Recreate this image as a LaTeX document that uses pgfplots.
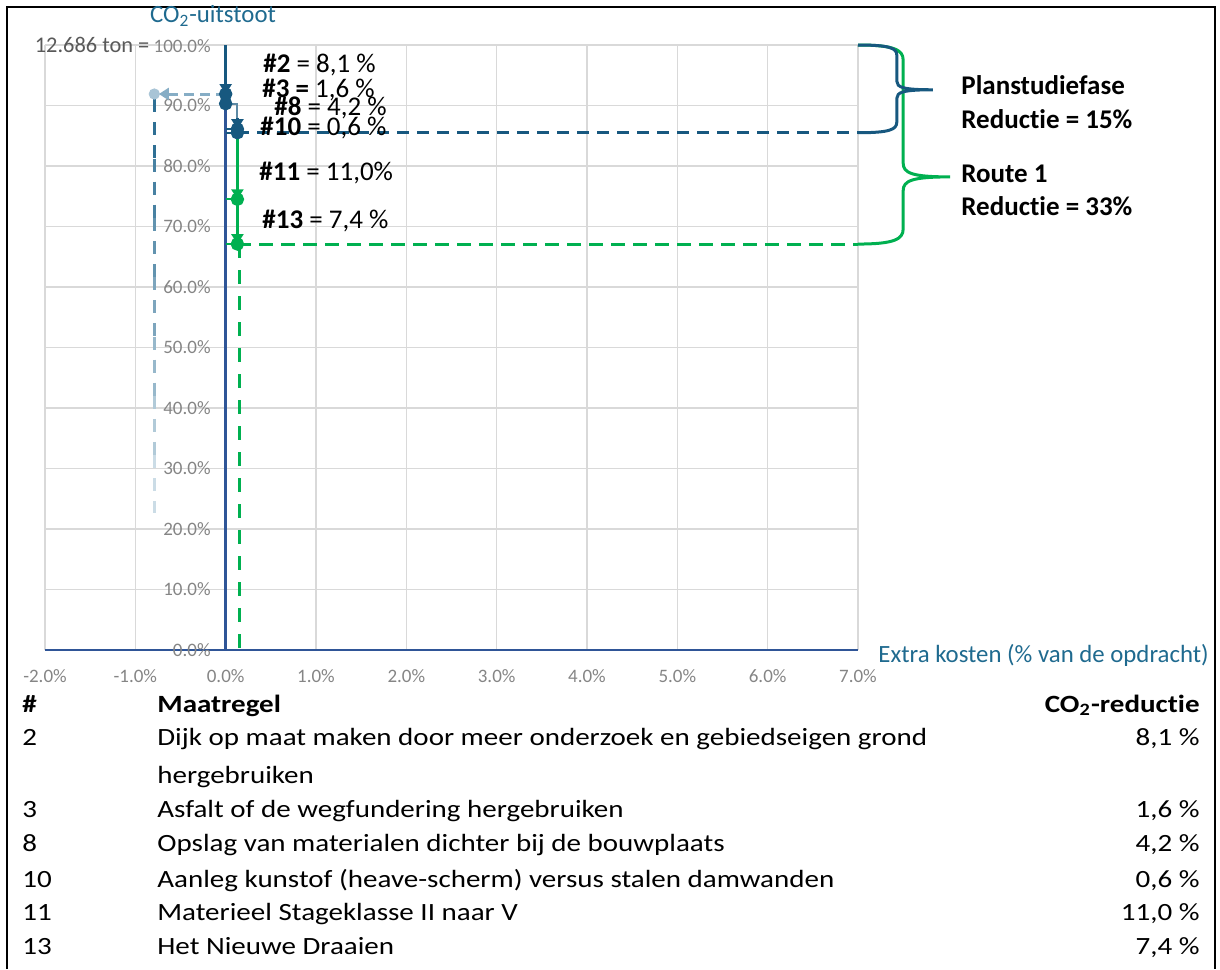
\documentclass[border=0pt]{standalone}
\usepackage{fontspec}
\setmainfont{Carlito}[Ligatures=NoCommon]
\usepackage{graphicx}
\usepackage{pgfplots}
\pgfplotsset{compat=1.18}
\usetikzlibrary{arrows.meta}

\definecolor{axblue}{HTML}{2F5597}
\definecolor{planblue}{HTML}{17587F}
\definecolor{routegreen}{HTML}{00B050}
\definecolor{titleteal}{HTML}{1F6A8F}
\definecolor{tickgray}{HTML}{858585}
\definecolor{tickdark}{HTML}{595959}
\definecolor{gridgray}{HTML}{D9D9D9}
\definecolor{ghostblue}{HTML}{A8C4D6}
\definecolor{ghostline}{HTML}{86ADC5}
\definecolor{fadetop}{HTML}{2E6F94}
\definecolor{fadebot}{HTML}{DDE8EF}

\newcommand\ticksize{\fontsize{9.5}{11}\selectfont}
\newcommand\lblsize{\fontsize{13.5}{16}\selectfont}
\newcommand\ttlsize{\fontsize{12.4}{15}\selectfont}
\newcommand\tabsize{\fontsize{12.4}{15}\selectfont}
\newcommand\wide[1]{\scalebox{1.17}[1]{#1}}

\begin{document}
\begin{tikzpicture}
\useasboundingbox (0,0) rectangle (610pt,-484.5pt);
\begin{axis}[
  at={(22.5pt,-325pt)}, anchor=south west,
  scale only axis, width=406.5pt, height=302.5pt,
  xmin=-2, xmax=7, ymin=0, ymax=100,
  axis lines=middle,
  axis line style={axblue, line width=1.2pt, -},
  hide obscured x ticks=false, hide obscured y ticks=false,
  xtick={-2,-1,0,1,2,3,4,5,6,7},
  ytick={0,10,20,30,40,50,60,70,80,90,100},
  xticklabels={-2.0\%,-1.0\%,0.0\%,1.0\%,2.0\%,3.0\%,4.0\%,5.0\%,6.0\%,7.0\%},
  yticklabels={0.0\%,10.0\%,20.0\%,30.0\%,40.0\%,50.0\%,60.0\%,70.0\%,80.0\%,90.0\%,{\textcolor{tickdark}{\fontsize{11.2}{13}\selectfont 12.686 ton =} 100.0\%}},
  major tick length=0pt,
  grid=major, grid style={gridgray, line width=0.7pt},
  tick label style={font=\ticksize, text=tickgray},
  xticklabel style={yshift=-6pt},
  yticklabel style={xshift=-4pt},
  /pgf/number format/assume math mode=true,
  clip=false,
]
% fading guide line to the left of the y axis
\addplot[fadetop, line width=1.5pt, dash pattern=on 6.5pt off 5pt] coordinates {(-0.79,91) (-0.79,81.2)};
\addplot[fadetop!85!fadebot, line width=1.5pt, dash pattern=on 6.5pt off 5pt] coordinates {(-0.79,81.2) (-0.79,71.4)};
\addplot[fadetop!70!fadebot, line width=1.5pt, dash pattern=on 6.5pt off 5pt] coordinates {(-0.79,71.4) (-0.79,61.6)};
\addplot[fadetop!55!fadebot, line width=1.5pt, dash pattern=on 6.5pt off 5pt] coordinates {(-0.79,61.6) (-0.79,51.8)};
\addplot[fadetop!40!fadebot, line width=1.5pt, dash pattern=on 6.5pt off 5pt] coordinates {(-0.79,51.8) (-0.79,42)};
\addplot[fadetop!25!fadebot, line width=1.5pt, dash pattern=on 6.5pt off 5pt] coordinates {(-0.79,42) (-0.79,32.2)};
\addplot[fadetop!10!fadebot, line width=1.5pt, dash pattern=on 6.5pt off 5pt] coordinates {(-0.79,32.2) (-0.79,22.6)};
% arrow to the left
\addplot[ghostline, line width=1.5pt, dash pattern=on 5pt off 3pt, -{Triangle[width=6pt,length=5pt]}] coordinates {(0,91.9) (-0.74,91.9)};
\addplot[ghostblue, only marks, mark=*, mark size=2.6pt] coordinates {(-0.79,91.9)};
% dashed level lines
\addplot[planblue, line width=1.5pt, dash pattern=on 6pt off 4pt] coordinates {(0.13,85.5) (7,85.5)};
\addplot[routegreen, line width=1.5pt, dash pattern=on 7pt off 4pt] coordinates {(0.13,67.1) (7,67.1)};
\addplot[routegreen, line width=1.5pt, dash pattern=on 7pt off 6pt] coordinates {(0.15,67.1) (0.15,0)};
% Planstudiefase steps
\addplot[planblue, line width=1.5pt, -{Triangle[width=6pt,length=5pt]}, mark=*, mark size=2.6pt, mark indices={2}, mark options={solid}] coordinates {(0,100) (0,91.9)};
\addplot[planblue, line width=1.5pt, mark=*, mark size=2.6pt, mark indices={2}] coordinates {(0,91.9) (0,90.3)};
\addplot[planblue!70!white, line width=1pt] coordinates {(0,90.3) (0.13,90.3) (0.13,88)};
\addplot[planblue, line width=1.5pt, -{Triangle[width=6pt,length=5pt]}, mark=*, mark size=2.6pt, mark indices={2}] coordinates {(0.13,88) (0.13,86.1)};
\addplot[planblue, line width=1pt] coordinates {(0,86.1) (0.13,86.1)};
\addplot[planblue, line width=1.5pt, mark=*, mark size=2.6pt, mark indices={2}] coordinates {(0.13,86.1) (0.13,85.5)};
\addplot[planblue, line width=1pt] coordinates {(0,85.5) (0.13,85.5)};
% Route 1 steps
\addplot[routegreen, line width=1.5pt, -{Triangle[width=6pt,length=5pt]}, mark=*, mark size=2.6pt, mark indices={2}] coordinates {(0.13,85.5) (0.13,74.5)};
\addplot[routegreen, line width=1pt] coordinates {(0,74.5) (0.13,74.5)};
\addplot[routegreen, line width=1.5pt, -{Triangle[width=6pt,length=5pt]}, mark=*, mark size=2.6pt, mark indices={2}] coordinates {(0.13,74.5) (0.13,67.1)};
\addplot[routegreen, line width=1pt] coordinates {(0,67.1) (0.13,67.1)};
% braces
\draw[routegreen, line width=1.5pt] (axis cs:7,100) .. controls (axis cs:7.4,100) and (axis cs:7.5,99.2) .. (axis cs:7.5,97.5)
  -- (axis cs:7.5,80.5) .. controls (axis cs:7.5,78.8) and (axis cs:7.6,78.2) .. (axis cs:8.02,78.2)
  .. controls (axis cs:7.6,78.2) and (axis cs:7.5,77.6) .. (axis cs:7.5,75.9)
  -- (axis cs:7.5,69.6) .. controls (axis cs:7.5,67.9) and (axis cs:7.4,67.1) .. (axis cs:7,67.1);
\draw[planblue, line width=1.5pt] (axis cs:7,85.5) .. controls (axis cs:7.35,85.5) and (axis cs:7.43,86) .. (axis cs:7.43,87.3)
  -- (axis cs:7.43,91.2) .. controls (axis cs:7.43,92.2) and (axis cs:7.5,92.6) .. (axis cs:7.83,92.6)
  .. controls (axis cs:7.5,92.6) and (axis cs:7.43,93) .. (axis cs:7.43,94)
  -- (axis cs:7.43,98.3) .. controls (axis cs:7.43,99.5) and (axis cs:7.35,100) .. (axis cs:7,100);
\end{axis}

\begin{scope}[x=0.5pt,y=-0.5pt]
% frame
\draw[black, line width=1pt] (7,969) -- (7,7) -- (1215,7) -- (1215,969);
% axis titles
\node[anchor=base, inner sep=0, font=\ttlsize, text=titleteal] at (213,23) {CO\textsubscript{2}-uitstoot};
\node[anchor=base west, inner sep=0, font=\ttlsize, text=titleteal] at (878,662) {Extra kosten (\% van de opdracht)};
% step labels
\node[anchor=base west, inner sep=0, font=\lblsize] at (263,72) {\textbf{\#2} = 8,1 \%};
\node[anchor=base west, inner sep=0, font=\lblsize] at (262,97) {\textbf{\#3 =} 1,6 \%};
\node[anchor=base west, inner sep=0, font=\lblsize] at (274,115) {\textbf{\#8} = 4,2 \%};
\node[anchor=base west, inner sep=0, font=\lblsize] at (260,135) {\textbf{\#10} = 0,6 \%};
\node[anchor=base west, inner sep=0, font=\lblsize] at (259,180) {\textbf{\#11} = 11,0\%};
\node[anchor=base west, inner sep=0, font=\lblsize] at (262,228) {\textbf{\#13} = 7,4 \%};
% brace labels
\node[anchor=base west, inner sep=0, font=\lblsize\bfseries] at (961,94) {Planstudiefase};
\node[anchor=base west, inner sep=0, font=\lblsize\bfseries] at (961,128) {Reductie = 15\%};
\node[anchor=base west, inner sep=0, font=\lblsize\bfseries] at (961,182) {Route 1};
\node[anchor=base west, inner sep=0, font=\lblsize\bfseries] at (961,215) {Reductie = 33\%};
% table of measures
\begin{scope}[every node/.style={inner sep=0, font=\tabsize}]
\node[anchor=base west] at (22,712) {\wide{\textbf{\#}}};
\node[anchor=base west] at (157,712) {\wide{\textbf{Maatregel}}};
\node[anchor=base east] at (1200,712) {\wide{\textbf{CO\textsubscript{2}-reductie}}};
\node[anchor=base west] at (22,745) {\wide{2}};
\node[anchor=base west] at (157,745) {\wide{Dijk op maat maken door meer onderzoek en gebiedseigen grond}};
\node[anchor=base east] at (1200,745) {\wide{8,1 \%}};
\node[anchor=base west] at (157,783) {\wide{hergebruiken}};
\node[anchor=base west] at (22,817) {\wide{3}};
\node[anchor=base west] at (157,817) {\wide{Asfalt of de wegfundering hergebruiken}};
\node[anchor=base east] at (1200,817) {\wide{1,6 \%}};
\node[anchor=base west] at (22,851) {\wide{8}};
\node[anchor=base west] at (157,851) {\wide{Opslag van materialen dichter bij de bouwplaats}};
\node[anchor=base east] at (1200,851) {\wide{4,2 \%}};
\node[anchor=base west] at (22,887) {\wide{10}};
\node[anchor=base west] at (157,887) {\wide{Aanleg kunstof (heave-scherm) versus stalen damwanden}};
\node[anchor=base east] at (1200,887) {\wide{0,6 \%}};
\node[anchor=base west] at (22,920) {\wide{11}};
\node[anchor=base west] at (157,920) {\wide{Materieel Stageklasse II naar V}};
\node[anchor=base east] at (1200,920) {\wide{11,0 \%}};
\node[anchor=base west] at (22,954) {\wide{13}};
\node[anchor=base west] at (157,954) {\wide{Het Nieuwe Draaien}};
\node[anchor=base east] at (1200,954) {\wide{7,4 \%}};
\end{scope}
\end{scope}
\end{tikzpicture}
\end{document}
